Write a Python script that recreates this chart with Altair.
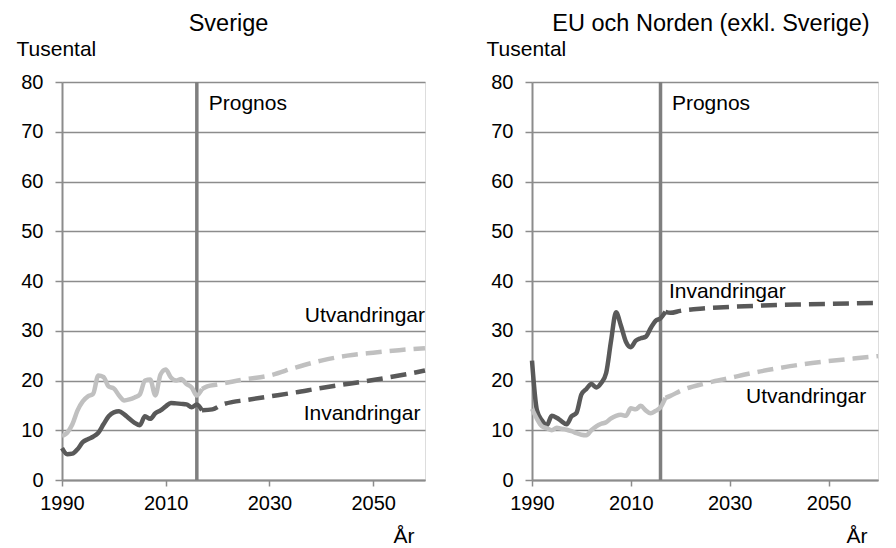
import altair as alt
import pandas as pd

# ---------------- data ----------------
hist_years = list(range(1990, 2018))

sv_inv_hist = [6.4, 5.2, 5.3, 6.2, 7.6, 8.2, 8.7, 9.5, 11.2, 12.8, 13.6, 13.8, 13.2, 12.3,
               11.5, 11.0, 12.8, 12.3, 13.4, 14.0, 14.8, 15.5, 15.4, 15.3, 15.2, 14.6, 15.2, 14.0]
sv_utv_hist = [8.8, 9.5, 11.2, 14.0, 15.8, 16.8, 17.3, 21.0, 20.7, 18.8, 18.4, 17.0, 16.0, 16.2,
               16.6, 17.2, 20.0, 20.2, 17.0, 21.2, 22.2, 20.6, 20.0, 20.3, 19.3, 18.6, 17.0, 18.3]

eu_inv_hist = [24.0, 14.0, 12.0, 11.0, 12.9, 12.5, 11.8, 11.2, 12.8, 13.5, 17.2, 18.3, 19.3, 18.6,
               19.5, 21.5, 28.0, 33.7, 31.0, 27.8, 26.7, 28.0, 28.5, 28.8, 30.5, 32.0, 32.5, 33.8]
eu_utv_hist = [14.3, 12.3, 10.8, 10.4, 10.0, 10.5, 10.3, 10.1, 9.8, 9.4, 9.1, 9.0, 10.0, 10.8,
               11.3, 11.6, 12.4, 12.9, 13.1, 12.9, 14.4, 14.2, 14.9, 14.0, 13.4, 13.9, 14.6, 16.5]

sv_inv_proj_years = [2017, 2019, 2021, 2023, 2025, 2030, 2035, 2040, 2045, 2050, 2055, 2060]
sv_inv_proj = [14.0, 14.2, 15.2, 15.7, 16.0, 16.8, 17.6, 18.5, 19.3, 20.1, 21.0, 22.0]
sv_utv_proj_years = [2017, 2018, 2020, 2023, 2025, 2030, 2035, 2040, 2045, 2050, 2055, 2060]
sv_utv_proj = [18.3, 18.8, 19.2, 19.8, 20.2, 21.0, 22.6, 24.0, 25.0, 25.6, 26.1, 26.5]

eu_inv_proj_years = [2017, 2018, 2020, 2025, 2030, 2035, 2040, 2045, 2050, 2055, 2060]
eu_inv_proj = [33.8, 33.6, 34.0, 34.5, 34.8, 35.0, 35.2, 35.3, 35.4, 35.5, 35.6]
eu_utv_proj_years = [2017, 2018, 2020, 2025, 2030, 2035, 2040, 2045, 2050, 2055, 2060]
eu_utv_proj = [16.5, 16.9, 17.9, 19.4, 20.5, 21.6, 22.5, 23.3, 23.9, 24.4, 24.9]

prognos_year = 2016
series_names = ["Invandringar", "Utvandringar"]
series_colors = ["#595959", "#c0c0c0"]

x_ticks = [1990, 2010, 2030, 2050]
y_ticks = [0, 10, 20, 30, 40, 50, 60, 70, 80]

# label anchors (data coordinates)
sv_labels = pd.DataFrame({
    "year": [2018.3, 2060, 2036.6],
    "value": [74.4, 31.8, 12.1],
    "text": ["Prognos", "Utvandringar", "Invandringar"],
    "align": ["left", "right", "left"],
})
eu_labels = pd.DataFrame({
    "year": [2018.3, 2017.7, 2033.3],
    "value": [74.4, 36.6, 15.5],
    "text": ["Prognos", "Invandringar", "Utvandringar"],
    "align": ["left", "left", "left"],
})

FONT = "Liberation Sans"
GRID = "#8c8c8c"


def long_df(years_a, vals_a, years_b, vals_b):
    return pd.concat([
        pd.DataFrame({"year": years_a, "value": vals_a, "series": series_names[0]}),
        pd.DataFrame({"year": years_b, "value": vals_b, "series": series_names[1]}),
    ], ignore_index=True)


def panel(title, hist, proj, labels, width, title_dx):
    x = alt.X("year:Q", scale=alt.Scale(domain=[1990, 2060], nice=False, zero=False),
              axis=alt.Axis(values=x_ticks, format="d", grid=False, tickSize=6,
                            tickColor=GRID, tickWidth=1.5, domainColor=GRID, domainWidth=2,
                            labelFont=FONT, labelFontSize=20, labelColor="black",
                            labelFlush=False, labelPadding=7,
                            title="År", titleFont=FONT, titleFontSize=21,
                            titleFontWeight="normal", titleColor="black",
                            titleAlign="right", titleBaseline="alphabetic",
                            titleX=width - 11, titleY=62))
    y = alt.Y("value:Q", scale=alt.Scale(domain=[0, 80], nice=False),
              axis=alt.Axis(values=y_ticks, grid=True, gridColor=GRID, gridWidth=1.5,
                            tickSize=7, tickColor=GRID, tickWidth=1.5,
                            domainColor=GRID, domainWidth=2,
                            labelFont=FONT, labelFontSize=20, labelColor="black",
                            labelPadding=12, title="Tusental", titleFont=FONT,
                            titleFontSize=21, titleFontWeight="normal", titleColor="black",
                            titleAngle=0, titleAlign="left", titleBaseline="alphabetic",
                            titleX=-46, titleY=-27))
    color = alt.Color("series:N", scale=alt.Scale(domain=series_names, range=series_colors),
                      legend=None)

    rule = alt.Chart(pd.DataFrame({"year": [prognos_year]})).mark_rule(
        color="#7f7f7f", strokeWidth=3.5).encode(x=alt.X("year:Q"))
    hist_l = alt.Chart(hist).mark_line(strokeWidth=4.5, interpolate="monotone",
                                       strokeJoin="round").encode(
        x=x, y=y, color=color, detail="series:N")
    proj_l = alt.Chart(proj).mark_line(strokeWidth=4.5, strokeDash=[16, 8],
                                       interpolate="monotone").encode(
        x="year:Q", y="value:Q", color=color, detail="series:N")
    layers = [rule, hist_l, proj_l]
    for al in ["left", "right"]:
        sub = labels[labels["align"] == al]
        if len(sub):
            layers.append(alt.Chart(sub).mark_text(
                align=al, baseline="alphabetic", font=FONT, fontSize=21,
                color="black").encode(x="year:Q", y="value:Q", text="text:N"))
    return alt.layer(*layers).properties(
        width=width, height=398,
        title=alt.TitleParams(text=title, font=FONT, fontSize=23.5, fontWeight="normal",
                              color="black", anchor="middle", frame="group",
                              dx=title_dx, offset=3))


sv_hist = long_df(hist_years, sv_inv_hist, hist_years, sv_utv_hist)
sv_proj = long_df(sv_inv_proj_years, sv_inv_proj, sv_utv_proj_years, sv_utv_proj)
eu_hist = long_df(hist_years, eu_inv_hist, hist_years, eu_utv_hist)
eu_proj = long_df(eu_inv_proj_years, eu_inv_proj, eu_utv_proj_years, eu_utv_proj)

left = panel("Sverige", sv_hist, sv_proj, sv_labels, 363, -15)
right = panel("EU och Norden (exkl. Sverige)", eu_hist, eu_proj, eu_labels, 346, 6)

chart = alt.hconcat(left, right, spacing=107, bounds="flush").properties(
    padding={"left": 7, "top": 3, "right": 0, "bottom": 0}
).configure_view(stroke=None).configure(background="white")

chart.save("out.html", embed_options={"renderer": "svg", "actions": False})
